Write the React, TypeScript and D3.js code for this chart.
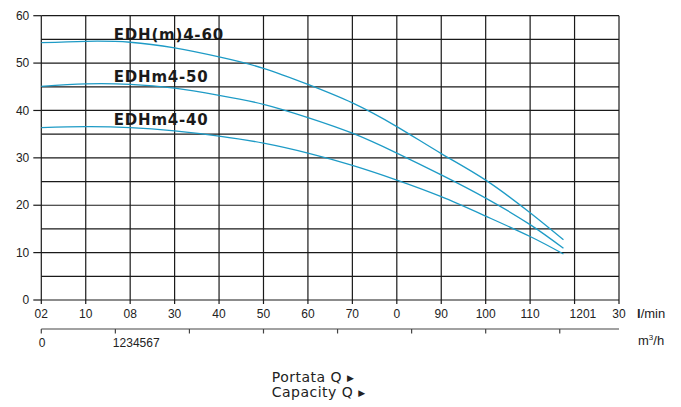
import * as d3 from "d3";

// flow in l/min, head in m
const flowLmin = [0, 10, 20, 30, 40, 50, 60, 70, 80, 90, 100, 110, 117.5];
const head60 = [54.3, 54.6, 54.4, 53.2, 51.3, 48.9, 45.5, 41.6, 36.6, 30.9, 25.3, 18.4, 12.7];
const head50 = [45.1, 45.6, 45.5, 44.7, 43.2, 41.3, 38.5, 35.2, 31.0, 26.4, 21.5, 15.9, 10.9];
const head40 = [36.4, 36.6, 36.4, 35.7, 34.6, 33.1, 31.0, 28.4, 25.3, 21.8, 17.7, 13.4, 9.7];
const seriesNames = ["EDH(m)4-60", "EDHm4-50", "EDHm4-40"];

const yTicks = [0, 10, 20, 30, 40, 50, 60];
const yGrid = d3.range(0, 61, 5);
const xTicks = d3.range(0, 131, 10);
const xTickLabels = ["02", "10", "08", "30", "40", "50", "60", "70", "0", "90", "100", "110", "1201", "30"];
const m3Ticks = [0, 1, 2, 3, 4, 5, 6, 7];
const m3Labels = ["0", "1234567"];

const W = 681;
const H = 407;
const left = 41.3;
const right = 619;
const top = 15.7;
const bottom = 300;
const axis2Y = 329;

const curveColor = "#1e9bc6";
const gridColor = "#1a1a1a";
const axisFont = "Arial, 'Liberation Sans', sans-serif";

export default function App() {
  const x = d3.scaleLinear().domain([0, 130]).range([left, right]);
  const y = d3.scaleLinear().domain([0, 60]).range([bottom, top]);
  const xm3 = (v: number) => x((v * 1000) / 60);

  const series = [head60, head50, head40].map((h, i) => ({
    name: seriesNames[i],
    points: flowLmin.map((q, j) => ({ q, h: h[j] })),
  }));

  const line = d3
    .line<{ q: number; h: number }>()
    .x((d) => x(d.q))
    .y((d) => y(d.h))
    .curve(d3.curveNatural);

  return (
    <svg
      width={W}
      height={H}
      style={{ position: "absolute", left: 0, top: 0, background: "#fff" }}
    >
      {/* horizontal grid */}
      {yGrid.map((v) => (
        <line key={"h" + v} x1={left} x2={right} y1={y(v)} y2={y(v)} stroke={gridColor} strokeWidth={1.2} />
      ))}
      {/* vertical grid, running a little below the axis */}
      {xTicks.map((v) => (
        <line key={"v" + v} x1={x(v)} x2={x(v)} y1={top} y2={bottom + 4} stroke={gridColor} strokeWidth={1.2} />
      ))}
      {/* y ticks and labels */}
      {yTicks.map((v) => (
        <g key={"y" + v}>
          <line x1={left - 8} x2={left} y1={y(v)} y2={y(v)} stroke={gridColor} strokeWidth={1.2} />
          <text x={left - 12} y={y(v)} dy="0.35em" textAnchor="end" fontFamily={axisFont} fontSize={12} fill="#222">
            {v}
          </text>
        </g>
      ))}
      {/* l/min labels */}
      {xTicks.map((v, i) => {
        const label = xTickLabels[i];
        const merged = label === "1201";
        return (
          <text
            key={"x" + v}
            x={merged ? x(v) - 5 : x(v)}
            y={318}
            textAnchor={merged ? "start" : "middle"}
            fontFamily={axisFont}
            fontSize={12}
            fill="#222"
          >
            {label}
          </text>
        );
      })}
      <text x={637} y={318} fontFamily={axisFont} fontSize={13} fill="#222">
        <tspan fontWeight="bold">l</tspan>/min
      </text>

      {/* m3/h axis */}
      <line x1={left} x2={right} y1={axis2Y} y2={axis2Y} stroke="#444" strokeWidth={1.2} />
      {m3Ticks.map((v) => (
        <line key={"m" + v} x1={xm3(v)} x2={xm3(v)} y1={axis2Y} y2={axis2Y + 4.5} stroke="#444" strokeWidth={1.2} />
      ))}
      {m3Labels.map((t, i) => (
        <text key={"ml" + i} x={xm3(m3Ticks[i]) - 2.5} y={347} fontFamily={axisFont} fontSize={12} fill="#222">
          {t}
        </text>
      ))}
      <text x={638} y={345} fontFamily={axisFont} fontSize={13} fill="#222">
        m<tspan fontSize={8} dy={-5}>3</tspan>
        <tspan dy={5}>/h</tspan>
      </text>

      {/* curves */}
      {series.map((s) => (
        <path key={s.name} d={line(s.points) ?? ""} fill="none" stroke={curveColor} strokeWidth={1.3} />
      ))}
      {series.map((s) => (
        <text
          key={"l" + s.name}
          x={x(16.3)}
          y={y(s.points[2].h) - 2.5}
          fontFamily="'DejaVu Sans', sans-serif"
          fontWeight="bold"
          fontSize={15}
          letterSpacing={0.8}
          fill="#1a1a1a"
        >
          {s.name}
        </text>
      ))}

      {/* axis captions */}
      <text x={271.7} y={381.5} fontFamily="'DejaVu Sans', sans-serif" fontSize={14} letterSpacing={0.5} fill="#222">
        Portata Q<tspan fontSize={9} dx={5} dy={-1}>▶</tspan>
      </text>
      <text x={271.7} y={397} fontFamily="'DejaVu Sans', sans-serif" fontSize={14} letterSpacing={0.5} fill="#222">
        Capacity Q<tspan fontSize={9} dx={5} dy={-1}>▶</tspan>
      </text>
    </svg>
  );
}
